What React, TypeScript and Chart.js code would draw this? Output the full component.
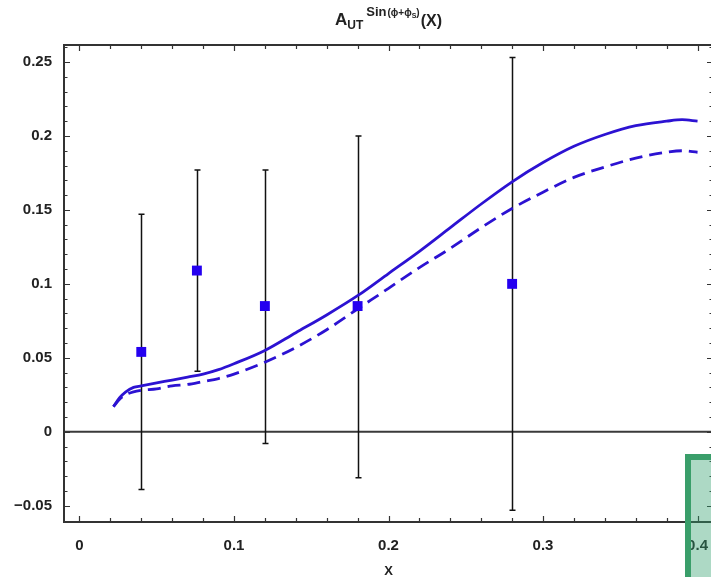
import React, { useEffect, useRef } from 'react';
import { Chart, registerables } from 'chart.js';

Chart.register(...registerables);

// ---- data ----
const X_TICKS = [0, 0.1, 0.2, 0.3, 0.4];
const X_TICK_LABELS = ['0', '0.1', '0.2', '0.3', '0.4'];
const Y_TICKS = [-0.05, 0, 0.05, 0.1, 0.15, 0.2, 0.25];
const Y_TICK_LABELS = ['\u22120.05', '0', '0.05', '0.1', '0.15', '0.2', '0.25'];

const DATA_X = [0.04, 0.076, 0.12, 0.18, 0.28];
const DATA_Y = [0.054, 0.109, 0.085, 0.085, 0.1];
const ERR_LOW = [-0.039, 0.041, -0.008, -0.031, -0.053];
const ERR_HIGH = [0.147, 0.177, 0.177, 0.2, 0.253];

const CURVE_X = [0.022, 0.026, 0.03, 0.035, 0.04, 0.05, 0.06, 0.07, 0.08, 0.09, 0.1, 0.12, 0.14, 0.16, 0.18, 0.2, 0.22, 0.24, 0.26, 0.28, 0.3, 0.32, 0.34, 0.36, 0.38, 0.39, 0.4];
const SOLID_Y = [0.017, 0.023, 0.027, 0.03, 0.031, 0.033, 0.035, 0.037, 0.039, 0.042, 0.046, 0.055, 0.067, 0.079, 0.092, 0.107, 0.122, 0.138, 0.154, 0.169, 0.182, 0.193, 0.201, 0.207, 0.21, 0.211, 0.21];
const DASHED_Y = [0.017, 0.022, 0.025, 0.027, 0.028, 0.029, 0.031, 0.032, 0.034, 0.036, 0.039, 0.047, 0.057, 0.069, 0.083, 0.097, 0.111, 0.124, 0.138, 0.151, 0.162, 0.172, 0.179, 0.185, 0.189, 0.19, 0.189];

const X_MIN = -0.01;
const X_MAX = 0.41;
const Y_MIN = -0.061;
const Y_MAX = 0.2615;

const FONT = "'Liberation Sans', Arial, Helvetica, sans-serif";
const LINE_COLOR = '#2c12d2';
const POINT_COLOR = '#2400f0';
const AXIS_COLOR = '#333333';

const framePlugin = {
  id: 'framePlugin',
  beforeDatasetsDraw(chart: any) {
    const { ctx, chartArea } = chart;
    const xs = chart.scales.x;
    const ys = chart.scales.y;
    ctx.save();
    // zero line
    const y0 = ys.getPixelForValue(0);
    ctx.strokeStyle = '#3a3a3a';
    ctx.lineWidth = 2;
    ctx.beginPath();
    ctx.moveTo(chartArea.left, y0);
    ctx.lineTo(chartArea.right, y0);
    ctx.stroke();
    // error bars
    ctx.strokeStyle = '#111';
    ctx.lineWidth = 1.5;
    for (let i = 0; i < DATA_X.length; i++) {
      const px = Math.round(xs.getPixelForValue(DATA_X[i])) + 0.5;
      const lo = ys.getPixelForValue(ERR_LOW[i]);
      const hi = ys.getPixelForValue(ERR_HIGH[i]);
      ctx.beginPath();
      ctx.moveTo(px, lo);
      ctx.lineTo(px, hi);
      ctx.moveTo(px - 3, lo);
      ctx.lineTo(px + 3, lo);
      ctx.moveTo(px - 3, hi);
      ctx.lineTo(px + 3, hi);
      ctx.stroke();
    }
    ctx.restore();
  },
  afterDraw(chart: any) {
    const { ctx, chartArea } = chart;
    const { left, right, top, bottom } = chartArea;
    const xs = chart.scales.x;
    const ys = chart.scales.y;
    ctx.save();
    ctx.strokeStyle = AXIS_COLOR;
    ctx.lineWidth = 2;
    ctx.strokeRect(left, top, right - left, bottom - top);
    ctx.lineWidth = 1.2;
    ctx.beginPath();
    // y ticks every 0.01
    for (let i = -6; i <= 26; i++) {
      const py = Math.round(ys.getPixelForValue(i / 100)) + 0.5;
      const len = i % 5 === 0 ? 6 : 3.5;
      ctx.moveTo(left, py);
      ctx.lineTo(left + len, py);
      ctx.moveTo(right, py);
      ctx.lineTo(right - len, py);
    }
    // x ticks every 0.02
    for (let i = 0; i <= 40; i += 2) {
      const px = Math.round(xs.getPixelForValue(i / 100)) + 0.5;
      const len = i % 10 === 0 ? 6 : 4;
      ctx.moveTo(px, bottom);
      ctx.lineTo(px, bottom - len);
      ctx.moveTo(px, top);
      ctx.lineTo(px, top + len);
    }
    ctx.stroke();

    // x axis title
    ctx.fillStyle = '#222';
    ctx.font = `bold 13px ${FONT}`;
    ctx.textAlign = 'center';
    ctx.textBaseline = 'middle';
    ctx.fillText('X', (left + right) / 2, 571);

    // main title
    ctx.textAlign = 'left';
    ctx.textBaseline = 'alphabetic';
    let x = 335;
    const put = (t: string, size: number, base: number, weight = 'bold') => {
      ctx.font = `${weight} ${size}px ${FONT}`;
      ctx.fillText(t, x, base);
      x += ctx.measureText(t).width;
    };
    put('A', 17, 25);
    put('UT', 12, 29);
    x += 3;
    put('Sin', 13, 16);
    x += 1;
    put('(\u03d5+\u03d5', 10, 16);
    put('S', 7, 18);
    put(')', 10, 16);
    x += 1;
    put('(X)', 16, 26);
    ctx.restore();
  },
};

export default function App() {
  const canvasRef = useRef<HTMLCanvasElement | null>(null);

  useEffect(() => {
    if (!canvasRef.current) return;
    Chart.defaults.font.family = FONT;
    const chart = new Chart(canvasRef.current, {
      data: {
        datasets: [
          {
            type: 'scatter',
            data: DATA_X.map((x, i) => ({ x, y: DATA_Y[i] })),
            pointStyle: 'rect',
            pointRadius: 7,
            pointBackgroundColor: POINT_COLOR,
            pointBorderColor: POINT_COLOR,
            pointBorderWidth: 0,
            order: 0,
          },
          {
            type: 'line',
            data: CURVE_X.map((x, i) => ({ x, y: SOLID_Y[i] })),
            borderColor: LINE_COLOR,
            borderWidth: 2.8,
            pointRadius: 0,
            cubicInterpolationMode: 'monotone',
            fill: false,
            order: 1,
          },
          {
            type: 'line',
            data: CURVE_X.map((x, i) => ({ x, y: DASHED_Y[i] })),
            borderColor: LINE_COLOR,
            borderWidth: 2.8,
            borderDash: [13, 7],
            pointRadius: 0,
            cubicInterpolationMode: 'monotone',
            fill: false,
            order: 2,
          },
        ],
      } as any,
      options: {
        animation: false,
        responsive: false,
        layout: { padding: { left: 0, top: 45, right: 17, bottom: 0 } },
        plugins: { legend: { display: false }, tooltip: { enabled: false }, title: { display: false } },
        scales: {
          x: {
            type: 'linear',
            min: X_MIN,
            max: X_MAX,
            grid: { display: false, drawTicks: false },
            border: { display: false },
            afterBuildTicks: (scale: any) => {
              scale.ticks = X_TICKS.map((v) => ({ value: v }));
            },
            afterFit: (scale: any) => {
              scale.height = 55;
            },
            ticks: {
              autoSkip: false,
              maxRotation: 0,
              padding: 15,
              color: '#222',
              font: { size: 15, weight: 'bold' },
              callback: (v: any) => {
                const idx = X_TICKS.findIndex((t) => Math.abs(t - v) < 1e-9);
                return idx >= 0 ? X_TICK_LABELS[idx] : '';
              },
            },
          },
          y: {
            type: 'linear',
            min: Y_MIN,
            max: Y_MAX,
            grid: { display: false, drawTicks: false },
            border: { display: false },
            afterBuildTicks: (scale: any) => {
              scale.ticks = Y_TICKS.map((v) => ({ value: v }));
            },
            afterFit: (scale: any) => {
              scale.width = 64;
            },
            ticks: {
              autoSkip: false,
              padding: 12,
              color: '#222',
              font: { size: 15, weight: 'bold' },
              callback: (v: any) => {
                const idx = Y_TICKS.findIndex((t) => Math.abs(t - v) < 1e-9);
                return idx >= 0 ? Y_TICK_LABELS[idx] : '';
              },
            },
          },
        },
      } as any,
      plugins: [framePlugin],
    });
    return () => chart.destroy();
  }, []);

  return (
    <div style={{ position: 'fixed', left: 0, top: 0, width: 711, height: 577, overflow: 'hidden', background: '#fff' }}>
      <canvas ref={canvasRef} width={730} height={577} style={{ position: 'absolute', left: 0, top: 0 }} />
      <div
        style={{
          position: 'absolute',
          left: 685,
          top: 454,
          width: 60,
          height: 140,
          boxSizing: 'border-box',
          border: '6px solid rgb(58,158,106)',
          background: 'rgba(50,160,110,0.4)',
        }}
      />
    </div>
  );
}
